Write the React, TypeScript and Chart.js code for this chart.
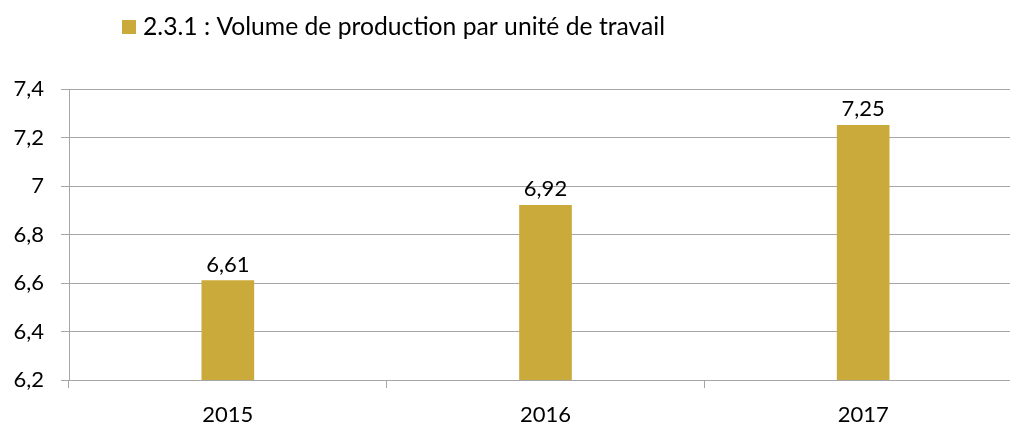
import React, { useEffect, useRef } from "react";
import { Chart, registerables } from "chart.js";

Chart.register(...registerables);

const categories = ["2015", "2016", "2017"];
const values = [6.61, 6.92, 7.25];
const seriesLabel = "2.3.1 : Volume de production par unité de travail";
const yMin = 6.2;
const yMax = 7.4;
const yStep = 0.2;

const FONT = "Lato";
const BAR_COLOR = "#CAAA3B";
const GRID_COLOR = "#A6A6A6";

const fmt = (v: number) => {
  const s = Number(v.toFixed(2)).toString();
  return s.replace(".", ",");
};

const customLegend = {
  id: "customLegend",
  afterDraw(chart: any) {
    const ctx = chart.ctx;
    const ds = chart.data.datasets[0];
    ctx.save();
    ctx.fillStyle = ds.backgroundColor;
    ctx.fillRect(122, 20, 14, 14);
    ctx.fillStyle = "#000";
    ctx.font = `24.7px ${FONT}`;
    ctx.textBaseline = "middle";
    ctx.textAlign = "left";
    ctx.fillText(ds.label, 143, 27);
    ctx.restore();
  },
};

const valueLabels = {
  id: "valueLabels",
  afterDatasetsDraw(chart: any) {
    const ctx = chart.ctx;
    const meta = chart.getDatasetMeta(0);
    const data = chart.data.datasets[0].data as number[];
    ctx.save();
    ctx.fillStyle = "#000";
    ctx.font = `22px ${FONT}`;
    ctx.textAlign = "center";
    ctx.textBaseline = "alphabetic";
    meta.data.forEach((el: any, i: number) => {
      ctx.fillText(fmt(data[i]), el.x, el.y - 9);
    });
    ctx.restore();
  },
};

export default function App() {
  const ref = useRef<HTMLCanvasElement | null>(null);
  useEffect(() => {
    if (!ref.current) return;
    const chart = new Chart(ref.current, {
      type: "bar",
      data: {
        labels: categories,
        datasets: [
          {
            label: seriesLabel,
            data: values,
            backgroundColor: BAR_COLOR,
            borderWidth: 0,
            barThickness: 52,
          },
        ],
      },
      options: {
        responsive: false,
        animation: false,
        layout: { padding: { top: 89, right: 8, left: 0, bottom: 0 } },
        plugins: {
          legend: { display: false },
          tooltip: { enabled: false },
        },
        scales: {
          x: {
            offset: true,
            grid: {
              display: true,
              drawOnChartArea: false,
              drawTicks: true,
              tickLength: 8,
              color: GRID_COLOR,
              offset: true,
            },
            border: { display: true, color: GRID_COLOR },
            ticks: {
              color: "#000",
              font: { family: FONT, size: 22 },
              padding: 14,
              maxRotation: 0,
            },
            afterFit: (scale: any) => {
              scale.height = 45;
            },
          },
          y: {
            min: yMin,
            max: yMax,
            grid: {
              color: GRID_COLOR,
              tickLength: 8,
              drawTicks: true,
            },
            border: { display: true, color: GRID_COLOR },
            ticks: {
              stepSize: yStep,
              color: "#000",
              font: { family: FONT, size: 22 },
              padding: 17,
              callback: (v: any) => fmt(Number(v)),
            },
            afterFit: (scale: any) => {
              scale.width = 69;
            },
          },
        },
      },
      plugins: [customLegend, valueLabels],
    });
    return () => chart.destroy();
  }, []);

  return (
    <div
      style={{
        position: "fixed",
        left: 0,
        top: 0,
        width: 1010,
        height: 425,
        overflow: "hidden",
        background: "#fff",
      }}
    >
      <canvas ref={ref} width={1030} height={425} style={{ display: "block" }} />
    </div>
  );
}
